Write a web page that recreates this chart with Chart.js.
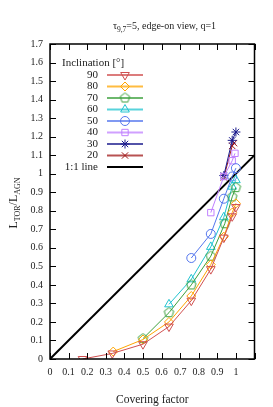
<!DOCTYPE html>
<html><head><meta charset="utf-8">
<script src="https://cdn.jsdelivr.net/npm/chart.js@4"></script>
<style>html,body{margin:0;padding:0;background:#fff}#c{display:block}</style>
</head><body>
<div style="width:273px;height:407px"><canvas id="c" width="273" height="407"></canvas></div>
<script>
const inclinations = ['90','80','70','60','50','40','30','20'];
const cf90 = [0.175,0.335,0.5,0.64,0.76,0.865,0.935,0.98,1.0];
const l90  = [0.0,0.03,0.08,0.175,0.315,0.485,0.655,0.77,0.82];
const cf80 = [0.34,0.5,0.64,0.76,0.865,0.935,0.98,1.0];
const l80  = [0.04,0.105,0.2,0.34,0.51,0.66,0.79,0.84];
const cf70 = [0.5,0.64,0.76,0.865,0.94,0.98,1.0];
const l70  = [0.11,0.25,0.40,0.555,0.73,0.875,0.925];
const cf60 = [0.64,0.76,0.865,0.935,0.98,1.0];
const l60  = [0.295,0.43,0.605,0.765,0.93,0.965];
const cf50 = [0.76,0.865,0.935,0.98,1.0];
const l50  = [0.545,0.675,0.865,0.985,1.03];
const cf40 = [0.865,0.935,0.98,0.995];
const l40  = [0.79,0.985,1.07,1.11];
const cf30 = [0.935,0.98,1.0];
const l30  = [0.99,1.18,1.225];
const cf20 = [0.935,0.98,0.99];
const l20  = [0.98,1.15,1.165];
const oneToOneX = [0,1.1];
const oneToOneY = [0,1.1];
const xTicks = [0,0.1,0.2,0.3,0.4,0.5,0.6,0.7,0.8,0.9,1,1.1];
const yTicks = [0,0.1,0.2,0.3,0.4,0.5,0.6,0.7,0.8,0.9,1,1.1,1.2,1.3,1.4,1.5,1.6,1.7];

const colors = ['#d05050','#ffa500','#3ca03c','#20c4d0','#5577ee','#c080ff','#1a1a8c','#a01818'];
const FONT = '"Liberation Serif", "DejaVu Serif", serif';

function pentagon(color, r){
  const s = Math.ceil(r*2+3), c = document.createElement('canvas');
  c.width = s; c.height = s;
  const g = c.getContext('2d'); g.strokeStyle = color; g.lineWidth = 1;
  g.beginPath();
  for(let i=0;i<5;i++){const a=-Math.PI/2+i*2*Math.PI/5; const px=s/2+r*Math.cos(a), py=s/2+r*Math.sin(a); i?g.lineTo(px,py):g.moveTo(px,py);}
  g.closePath(); g.stroke(); return c;
}
const styles = [
  {ps:'triangle', rot:180, r:5},
  {ps:'rectRot', rot:0, r:4.5},
  {ps:pentagon(colors[2],5), rot:0, r:5},
  {ps:'triangle', rot:0, r:5},
  {ps:'circle', rot:0, r:4.5},
  {ps:'rect', rot:0, r:4.5},
  {ps:'star', rot:0, r:4.5},
  {ps:'crossRot', rot:0, r:4.5}
];
const xs = [cf90,cf80,cf70,cf60,cf50,cf40,cf30,cf20];
const ys = [l90,l80,l70,l60,l50,l40,l30,l20];

const datasets = inclinations.map((lab,i)=>({
  label: lab,
  data: xs[i].map((x,j)=>({x:x,y:ys[i][j]})),
  borderColor: colors[i], backgroundColor:'rgba(0,0,0,0)',
  pointBorderColor: colors[i], pointBackgroundColor:'rgba(0,0,0,0)',
  pointStyle: styles[i].ps, pointRotation: styles[i].rot, pointRadius: styles[i].r,
  pointBorderWidth: 1, borderWidth: 1, showLine: true, tension: 0
}));
datasets.push({
  label: '1:1 line',
  data: oneToOneX.map((x,j)=>({x:x,y:oneToOneY[j]})),
  borderColor:'#000', borderWidth:2, pointRadius:0, showLine:true
});

const L=50, R=254.5, T=44, B=359;

const deco = {
  id:'deco',
  beforeDraw(chart){
    const ctx=chart.ctx; ctx.save(); ctx.fillStyle='#fff'; ctx.fillRect(0,0,chart.width,chart.height); ctx.restore();
  },
  afterDraw(chart){
    const ctx=chart.ctx, xs=chart.scales.x, ys=chart.scales.y, a=chart.chartArea;
    ctx.save();
    // frame
    ctx.strokeStyle='#000'; ctx.lineWidth=1.5;
    ctx.strokeRect(a.left, a.top, a.right-a.left, a.bottom-a.top);
    ctx.lineWidth=1;
    ctx.beginPath();
    xTicks.forEach(v=>{const p=Math.round(xs.getPixelForValue(v))+0.5; ctx.moveTo(p,a.bottom); ctx.lineTo(p,a.bottom-6); ctx.moveTo(p,a.top); ctx.lineTo(p,a.top+6);});
    yTicks.forEach(v=>{const p=Math.round(ys.getPixelForValue(v))+0.5; ctx.moveTo(a.left,p); ctx.lineTo(a.left+6,p); ctx.moveTo(a.right,p); ctx.lineTo(a.right-6,p);});
    ctx.stroke();
    // title
    ctx.fillStyle='#222';
    ctx.textBaseline='alphabetic'; ctx.textAlign='left';
    const tparts=[['τ',10,0],['9,7',7.5,2.5],['=5, edge-on view, q=1',10,0]];
    let tw=0; tparts.forEach(p=>{ctx.font=p[1]+'px '+FONT; tw+=ctx.measureText(p[0]).width;});
    let x=164.5-tw/2, y=29;
    tparts.forEach(p=>{ctx.font=p[1]+'px '+FONT; ctx.fillText(p[0],x,y+p[2]); x+=ctx.measureText(p[0]).width;});
    // y title
    ctx.save(); ctx.translate(17,203); ctx.rotate(-Math.PI/2);
    const parts=[['L',12,0],['TOR',8,3],['/L',12,0],['AGN',8,3]];
    let w=0; parts.forEach(p=>{ctx.font=p[1]+'px '+FONT; w+=ctx.measureText(p[0]).width;});
    let px=-w/2; parts.forEach(p=>{ctx.font=p[1]+'px '+FONT; ctx.fillText(p[0],px,p[2]); px+=ctx.measureText(p[0]).width;});
    ctx.restore();
    // legend
    ctx.font='11px '+FONT; ctx.textAlign='left'; ctx.textBaseline='middle';
    ctx.fillText('Inclination [°]',62,63);
    chart.data.datasets.forEach((ds,i)=>{
      const yy = 75 + i*11.5;
      ctx.textAlign='right'; ctx.fillStyle='#222'; ctx.fillText(ds.label,98,yy);
      ctx.strokeStyle=ds.borderColor; ctx.globalAlpha = i<8?0.75:1; ctx.lineWidth = 2;
      ctx.beginPath(); ctx.moveTo(107,yy); ctx.lineTo(143,yy); ctx.stroke(); ctx.globalAlpha=1;
      if(i<8 && Chart.helpers && Chart.helpers.drawPoint){
        ctx.strokeStyle=ds.borderColor; ctx.fillStyle='rgba(0,0,0,0)'; ctx.lineWidth=1;
        Chart.helpers.drawPoint(ctx,{pointStyle:ds.pointStyle,rotation:ds.pointRotation,radius:ds.pointRadius,borderWidth:1},125,yy);
      }
    });
    ctx.restore();
  }
};

new Chart(document.getElementById('c'), {
  type:'scatter',
  data:{datasets},
  plugins:[deco],
  options:{
    responsive:false, animation:false, devicePixelRatio:1,
    layout:{padding:{left:0,right:273-R,top:T,bottom:0}},
    plugins:{legend:{display:false}, title:{display:false}, tooltip:{enabled:false}},
    scales:{
      x:{type:'linear', min:0, max:1.1,
         afterFit(s){s.height=407-B;},
         afterBuildTicks(s){s.ticks=xTicks.map(v=>({value:v}));},
         grid:{display:false, drawTicks:false}, border:{display:false},
         ticks:{padding:7, color:'#222', font:{family:FONT,size:10}, maxRotation:0, autoSkip:false,
           callback:v=> v>1.05 ? '' : String(Math.round(v*10)/10)},
         title:{display:true, text:'Covering factor', color:'#222', font:{family:FONT,size:11.5}, padding:{top:6,bottom:0}}
      },
      y:{type:'linear', min:0, max:1.7,
         afterFit(s){s.width=L;},
         afterBuildTicks(s){s.ticks=yTicks.map(v=>({value:v}));},
         grid:{display:false, drawTicks:false}, border:{display:false},
         ticks:{padding:7, color:'#222', font:{family:FONT,size:10}, autoSkip:false,
           callback:v=> String(Math.round(v*10)/10)}
      }
    }
  }
});
</script>
</body></html>
